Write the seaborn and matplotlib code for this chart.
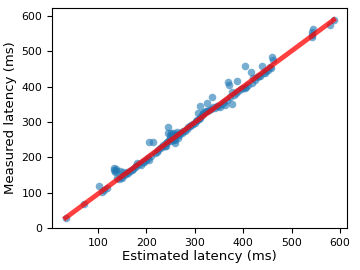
import numpy as np
import matplotlib
matplotlib.use("Agg")
import matplotlib.pyplot as plt
import seaborn as sns

# estimated vs measured latency (ms)
estimated = [
    33, 71, 101, 109, 113, 119,
    133, 134, 136, 137, 138, 140, 143, 145, 147, 150, 151, 153, 157, 160,
    163, 166, 170, 173, 176, 178, 181, 184, 188, 192, 195, 199, 203, 206,
    206, 214, 210, 218, 222, 225, 229, 232, 235, 238, 240, 241, 243, 245,
    245, 247, 248, 249, 250, 251, 252, 254, 255, 256, 257, 258, 259, 260,
    262, 263, 264, 266, 268, 270, 273, 276, 280, 283, 286, 290, 293, 296,
    300, 303, 305, 307, 309, 311, 311, 313, 316, 318, 320, 323, 326, 326,
    330, 333, 336, 338, 342, 345, 348, 352, 356, 360, 363, 366, 369, 371,
    373, 377, 377, 381, 385, 387, 390, 395, 400, 404, 404, 406, 410, 416,
    418, 421, 425, 429, 432, 435, 439, 442, 445, 448, 451, 455, 458, 460,
    462, 542, 542, 543, 544, 579, 587,
]
measured = [
    28, 68, 119, 102, 108, 113,
    170, 163, 159, 166, 160, 142, 138, 162, 145, 142, 158, 150, 152, 159,
    156, 162, 164, 168, 172, 176, 184, 180, 178, 186, 187, 192, 197, 193,
    244, 244, 205, 212, 215, 220, 227, 228, 235, 233, 240, 232, 244, 286,
    270, 250, 262, 255, 246, 270, 262, 248, 268, 258, 262, 252, 248, 241,
    265, 272, 264, 255, 262, 268, 270, 274, 276, 280, 285, 288, 292, 294,
    298, 302, 305, 326, 308, 346, 312, 318, 322, 326, 328, 330, 354, 332,
    335, 336, 371, 342, 340, 346, 345, 343, 352, 358, 348, 362, 414, 405,
    370, 351, 385, 378, 382, 416, 388, 393, 397, 459, 396, 400, 406, 442,
    412, 425, 419, 428, 430, 430, 459, 438, 440, 445, 448, 456, 452, 484,
    476, 540, 548, 556, 565, 575, 589,
]

# fitted line
fit_slope = 1.013
fit_intercept = -5.0

fig, ax = plt.subplots(figsize=(3.6, 2.7), dpi=100)
sns.scatterplot(x=estimated, y=measured, ax=ax, color="#1f77b4",
                alpha=0.6, s=30, linewidth=0, zorder=2)

x_line = np.array([min(estimated), max(estimated)])
ax.plot(x_line, fit_slope * x_line + fit_intercept, color="red",
        alpha=0.75, lw=3.5, zorder=3)

ax.set_xticks([100, 200, 300, 400, 500, 600])
ax.set_yticks([0, 100, 200, 300, 400, 500, 600])
ax.set_ylim(0, 623)
ax.tick_params(labelsize=7.8)
ax.set_xlabel("Estimated latency (ms)", fontsize=9.5, labelpad=2)
ax.set_ylabel("Measured latency (ms)", fontsize=9.5, labelpad=3)

fig.subplots_adjust(left=0.145, right=0.964, bottom=0.156, top=0.97)
fig.savefig("out.png")
